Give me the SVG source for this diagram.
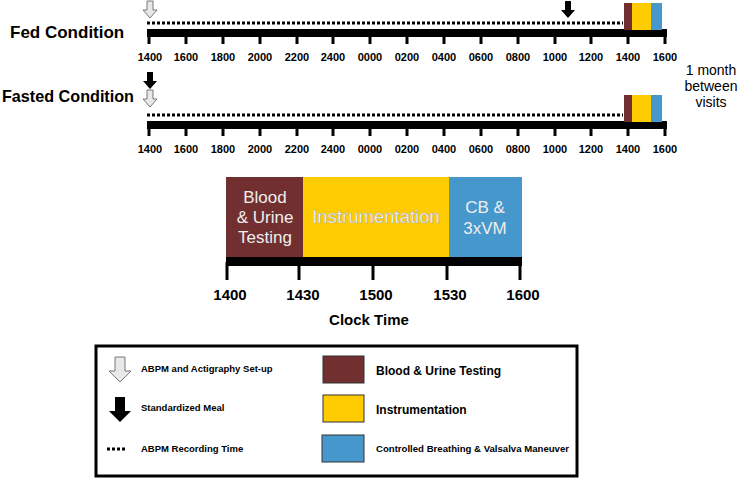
<svg xmlns="http://www.w3.org/2000/svg" width="750" height="480" viewBox="0 0 750 480">
<style>
text{font-family:"Liberation Sans",Arial,sans-serif;font-weight:bold;fill:#000}
.tk{font-size:11px;text-anchor:middle}
.bar{fill:#000}
.tick{stroke:#000;stroke-width:3}
.dash{stroke:#000;stroke-width:3;stroke-dasharray:3,2}
.hollow{fill:#e8e8e8;stroke:#777;stroke-width:1}
.solid{fill:#000}
.m{fill:#722f30}.y{fill:#fecc00}.b{fill:#4697cb}
.sw{stroke:#333;stroke-width:1}
.lg{font-size:9.5px}
</style>
<defs>
<g id="tk1">
<line class="tick" x1="149" y1="32" x2="149" y2="44"/><line class="tick" x1="186" y1="32" x2="186" y2="44"/><line class="tick" x1="223" y1="32" x2="223" y2="44"/><line class="tick" x1="260" y1="32" x2="260" y2="44"/><line class="tick" x1="297" y1="32" x2="297" y2="44"/><line class="tick" x1="333" y1="32" x2="333" y2="44"/><line class="tick" x1="370" y1="32" x2="370" y2="44"/><line class="tick" x1="407" y1="32" x2="407" y2="44"/><line class="tick" x1="444" y1="32" x2="444" y2="44"/><line class="tick" x1="481" y1="32" x2="481" y2="44"/><line class="tick" x1="518" y1="32" x2="518" y2="44"/><line class="tick" x1="555" y1="32" x2="555" y2="44"/><line class="tick" x1="591" y1="32" x2="591" y2="44"/><line class="tick" x1="628" y1="32" x2="628" y2="44"/><line class="tick" x1="665" y1="32" x2="665" y2="44"/>
<rect class="bar" x="147" y="29" width="520" height="8"/>
<line class="dash" x1="147" y1="23" x2="623" y2="23"/>
<rect class="m" x="624" y="3" width="8" height="27"/><rect class="y" x="632" y="3" width="19" height="27"/><rect class="b" x="651" y="3" width="11" height="27"/>
<text class="tk" x="150" y="61">1400</text><text class="tk" x="186" y="61">1600</text><text class="tk" x="223" y="61">1800</text><text class="tk" x="260" y="61">2000</text><text class="tk" x="297" y="61">2200</text><text class="tk" x="333" y="61">2400</text><text class="tk" x="370" y="61">0000</text><text class="tk" x="407" y="61">0200</text><text class="tk" x="444" y="61">0400</text><text class="tk" x="481" y="61">0600</text><text class="tk" x="518" y="61">0800</text><text class="tk" x="555" y="61">1000</text><text class="tk" x="591" y="61">1200</text><text class="tk" x="628" y="61">1400</text><text class="tk" x="665" y="61">1600</text>
</g>
<path id="arr" d="M-3,0 H3 V9 H7 L0,17 L-7,9 H-3 Z"/>
</defs>
<g id="fed">
<use href="#tk1"/>
<text x="10" y="38" font-size="17">Fed Condition</text>
<use href="#arr" class="hollow" x="150" y="1"/>
<use href="#arr" class="solid" x="568" y="1"/>
</g>
<g id="fasted">
<use href="#tk1" y="92"/>
<text x="2" y="102" font-size="17" textLength="132" lengthAdjust="spacingAndGlyphs">Fasted Condition</text>
<use href="#arr" class="solid" x="150" y="72"/>
<use href="#arr" class="hollow" x="150" y="90"/>
</g>
<g id="gap" font-size="14">
<text x="711" y="75" text-anchor="middle" style="font-weight:normal">1 month</text>
<text x="711" y="91" text-anchor="middle" style="font-weight:normal">between</text>
<text x="711" y="107" text-anchor="middle" style="font-weight:normal">visits</text>
</g>
<g id="detail">
<rect class="m" x="226" y="177" width="77" height="81"/>
<rect class="y" x="303" y="177" width="146" height="81"/>
<rect class="b" x="449" y="177" width="73" height="81"/>
<g font-size="17" text-anchor="middle">
<text x="265" y="203" style="fill:#eee;font-weight:normal">Blood</text>
<text x="265" y="223" style="fill:#eee;font-weight:normal">&amp; Urine</text>
<text x="265" y="243" style="fill:#eee;font-weight:normal">Testing</text>
<text x="376" y="223" font-size="18.5" style="fill:#fff;font-weight:normal;stroke:#aaa;stroke-width:0.5">Instrumentation</text>
<text x="485" y="213" style="fill:#eee;font-weight:normal">CB &amp;</text>
<text x="485" y="234" style="fill:#eee;font-weight:normal">3xVM</text>
</g>
<rect class="bar" x="226" y="257" width="296" height="9"/>
<line class="tick" x1="227" y1="262" x2="227" y2="280"/><line class="tick" x1="299" y1="262" x2="299" y2="280"/><line class="tick" x1="373" y1="262" x2="373" y2="280"/><line class="tick" x1="447" y1="262" x2="447" y2="280"/><line class="tick" x1="520" y1="262" x2="520" y2="280"/>
<g font-size="15" text-anchor="middle">
<text x="230" y="300">1400</text><text x="303" y="300">1430</text><text x="376" y="300">1500</text><text x="450" y="300">1530</text><text x="523" y="300">1600</text>
</g>
<text x="369" y="325" font-size="15" text-anchor="middle">Clock Time</text>
</g>
<g id="legend">
<rect x="96" y="346" width="481" height="130" fill="#fff" stroke="#000" stroke-width="3"/>
<path class="hollow" d="M115,357 H125 V371 H131 L120,382 L109,371 H115 Z"/>
<path class="solid" d="M115,397 H125 V411 H131 L120,422 L109,411 H115 Z"/>
<line class="dash" x1="107" y1="449" x2="126" y2="449" stroke-dasharray="2.5,2"/>
<text class="lg" x="141" y="372">ABPM and Actigraphy Set-up</text>
<text class="lg" x="141" y="411">Standardized Meal</text>
<text class="lg" x="141" y="452">ABPM Recording Time</text>
<rect class="m sw" x="323" y="356" width="41" height="27"/>
<rect class="y sw" x="323" y="395" width="41" height="27"/>
<rect class="b sw" x="322" y="435" width="42" height="27"/>
<text x="376" y="375" font-size="12">Blood &amp; Urine Testing</text>
<text x="376" y="414" font-size="12">Instrumentation</text>
<text x="376" y="452" font-size="9.5" textLength="193" lengthAdjust="spacingAndGlyphs">Controlled Breathing &amp; Valsalva Maneuver</text>
</g>
</svg>
